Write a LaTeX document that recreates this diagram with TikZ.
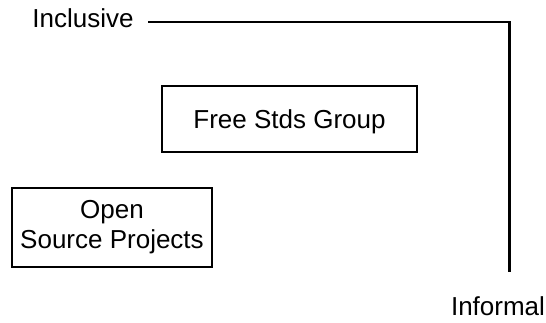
\documentclass[tikz,border=0pt]{standalone}
\usepackage{fontspec}
\setmainfont{Liberation Sans}
\begin{document}
\begin{tikzpicture}[x=1pt,y=-1pt,
  lbl/.style={font=\fontsize{26}{30}\selectfont, inner sep=0pt},
  boxnode/.style={draw, line width=1.3pt, font=\fontsize{26}{30}\selectfont, inner sep=0pt, align=center},
  axisline/.style={line width=2pt},
  axisvert/.style={line width=3pt}]
\useasboundingbox (0,0) rectangle (546,322);
\node[lbl, anchor=base] (incl) at (83,27) {Inclusive};
\node[lbl, anchor=base] (infor) at (498,315) {Informal};
\node[boxnode, minimum width=255pt, minimum height=66pt, text height=18.6pt, text depth=0pt] (fsg) at (289.5,119) {Free Stds Group};
\node[boxnode, minimum width=200pt, minimum height=79pt] (osp) at (112,227.5) {Open\\Source Projects};
\coordinate (hstart) at (148,22);
\coordinate (corner) at (509,22);
\coordinate (vend) at (509,272);
\draw[axisline] (hstart) -- ([xshift=1.5pt]corner);
\draw[axisvert] ([yshift=-1pt]corner) -- (vend);
\end{tikzpicture}
\end{document}
